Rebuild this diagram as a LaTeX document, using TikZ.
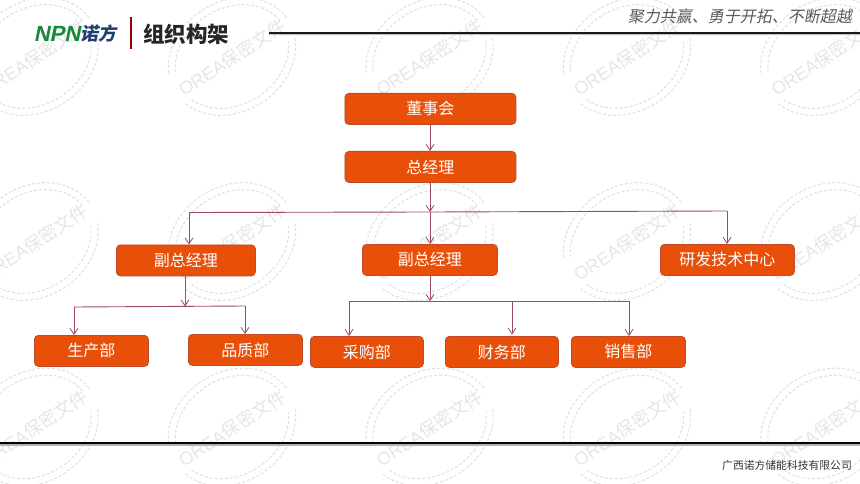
\documentclass[tikz,border=0pt]{standalone}
\usepackage{fontspec}
\setmainfont{Noto Sans CJK SC}
\newfontfamily\slantcjk[FakeSlant=0.2]{Noto Sans CJK SC}
\newfontfamily\logolat[FakeSlant=0.2]{Liberation Sans}
\newfontfamily\wmlat{Liberation Sans}
\usetikzlibrary{arrows.meta}
\definecolor{boxfill}{HTML}{E8500A}
\definecolor{boxedge}{HTML}{C04A2A}
\definecolor{conn}{HTML}{A04A5E}
\definecolor{wm}{HTML}{E6E6E6}
\definecolor{wmline}{HTML}{DDE0E3}
\definecolor{logogreen}{HTML}{17893C}
\definecolor{logoblue}{HTML}{1F3F6E}
\tikzset{
  x=1pt,y=-1pt,
  orgbox/.style={draw=boxedge,line width=0.8pt,fill=boxfill,rounded corners=4pt,text=white,font=\fontsize{16}{18}\selectfont,inner sep=0pt,anchor=north west},
  link/.style={draw=conn,line width=0.9pt},
  arrowlink/.style={link,-{Straight Barb[length=6pt,width=8pt,line width=0.8pt]}},
  wmring/.style={draw=wmline,line width=1pt,dash pattern=on 3pt off 2pt},
}
\newcommand{\obox}[6]{\node[orgbox,minimum width=#4-#3,minimum height=#6-#5] (#1) at (#3,#5) {#2};}
\newcommand{\wmarc}[4]{\draw[wmring] (#1:#3 and #4) arc [start angle=#1,end angle=#2,x radius=#3pt,y radius=#4pt];}
\begin{document}
\begin{tikzpicture}
\useasboundingbox (0,0) rectangle (860,484);
\fill[white] (0,0) rectangle (860,484);
% watermark
\foreach \cx in {34.5,232,429.5,627,824.5}{
  \foreach \cy in {56.5,241.5,427}{
    \begin{scope}[shift={(\cx,\cy)},rotate=33,x=1pt,y=1pt]
      \wmarc{3}{160}{67}{55}
      \wmarc{195}{340}{67}{55}
      \wmarc{5}{158}{60}{48}
      \wmarc{197}{338}{60}{48}
    \end{scope}
    \node[text=wm,rotate=33,font=\fontsize{18}{20}\selectfont,inner sep=0pt] at (\cx,\cy+1) {{\wmlat OREA}保密文件};
  }
}
% header
\node[font=\logolat\bfseries\fontsize{22}{24}\selectfont,text=logogreen,inner sep=0pt] (logoa) at (57,34) {NPN};
\node[font=\slantcjk\bfseries\fontsize{18}{20}\selectfont,text=logoblue,inner sep=0pt] (logob) at (98,34) {诺方};
\fill[red!60!black] (130.2,17) rectangle (132.2,49);
\node[font=\bfseries\fontsize{21.5}{24}\selectfont,text=black!85,inner sep=0pt] (title) at (186,34) {组织构架};
\node[font=\slantcjk\fontsize{16}{18}\selectfont,text=black!65,inner sep=0pt,anchor=east] (slogan) at (852,16) {聚力共赢、勇于开拓、不断超越};
\fill[black!25] (269,34) rectangle (860,35.5);
\fill[black!90] (269,32) rectangle (860,34);
% footer
\fill[black!30] (0,444) rectangle (860,446);
\fill[black] (0,442) rectangle (860,444);
\node[font=\fontsize{10.8}{12}\selectfont,text=black!80,inner sep=0pt,anchor=east] (footer) at (852,465) {广西诺方储能科技有限公司};
% boxes
\obox{board}{董事会}{344.5}{515.5}{93}{124}
\obox{gm}{总经理}{344.5}{515.5}{151}{182}
\obox{vpl}{副总经理}{116}{255}{244.5}{275.5}
\obox{vpm}{副总经理}{362}{497}{244}{275}
\obox{rd}{研发技术中心}{660}{794}{244}{275}
\obox{prod}{生产部}{34}{148}{335}{366}
\obox{qual}{品质部}{188}{302}{334}{365}
\obox{purch}{采购部}{310}{423}{336}{367}
\obox{fin}{财务部}{445}{558}{336}{367}
\obox{sales}{销售部}{571}{685}{336}{367}
% junctions
\coordinate (j1) at (430,212);
\coordinate (j1l) at (189,212.5);
\coordinate (j1r) at (727,211);
\coordinate (j2) at (185,306.5);
\coordinate (j2l) at (74,307);
\coordinate (j2r) at (245,306);
\coordinate (j3) at (430,301);
\coordinate (j3l) at (349,301);
\coordinate (j3m) at (512,301);
\coordinate (j3r) at (629,301);
% connectors
\draw[arrowlink] (board.south -| j1) -- (gm.north -| j1);
\draw[arrowlink] (gm.south -| j1) -- (j1);
\draw[arrowlink] (j1) -- (vpm.north -| j1);
\draw[link] (j1l) -- (j1) -- (j1r);
\draw[arrowlink] (j1l) -- (vpl.north -| j1l);
\draw[arrowlink] (j1r) -- (rd.north -| j1r);
\draw[arrowlink] (vpl.south -| j2) -- (j2);
\draw[link] (j2l) -- (j2r);
\draw[arrowlink] (j2l) -- (prod.north -| j2l);
\draw[arrowlink] (j2r) -- (qual.north -| j2r);
\draw[arrowlink] (vpm.south -| j3) -- (j3);
\draw[link] (j3l) -- (j3r);
\draw[arrowlink] (j3l) -- (purch.north -| j3l);
\draw[arrowlink,shorten >=1.5pt] (j3m) -- (fin.north -| j3m);
\draw[arrowlink] (j3r) -- (sales.north -| j3r);
\end{tikzpicture}
\end{document}
